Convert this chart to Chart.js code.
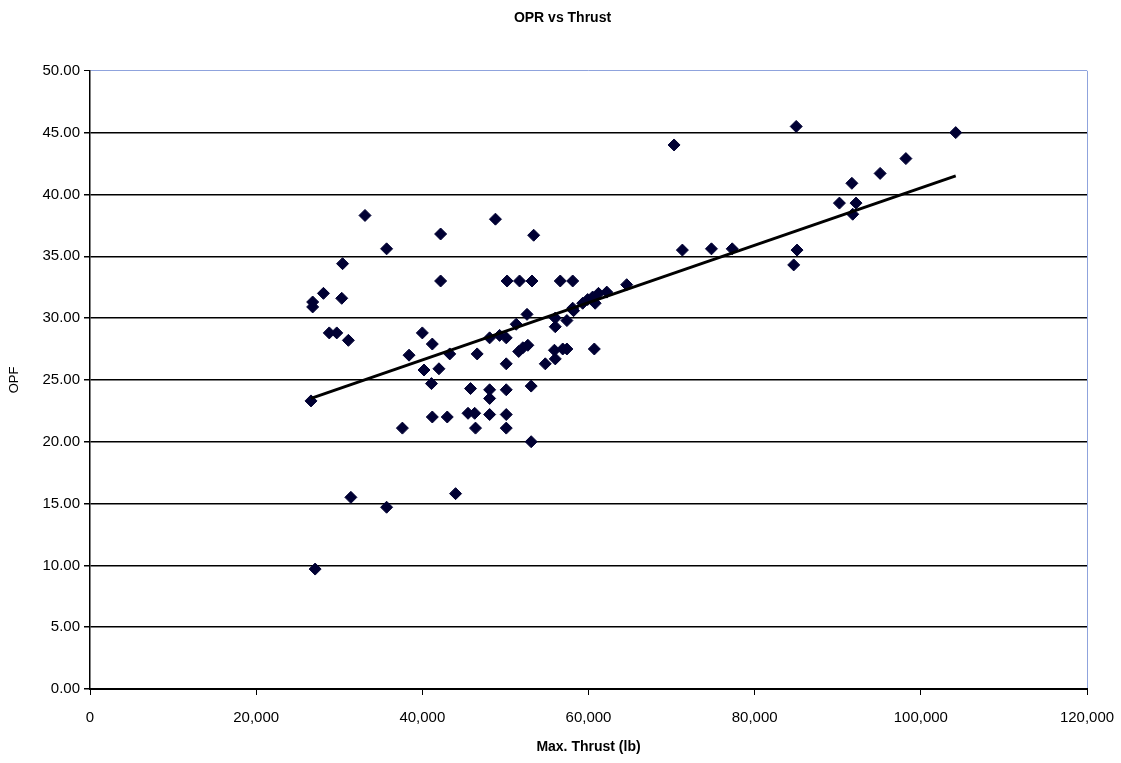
<!DOCTYPE html>
<html>
<head>
<meta charset="utf-8">
<title>OPR vs Thrust</title>
<script src="https://cdn.jsdelivr.net/npm/chart.js@4.4.1/dist/chart.umd.min.js"></script>
<style>
  body { margin: 0; background: #fff; }
  #wrap { width: 1121px; height: 763px; }
</style>
</head>
<body>
<div id="wrap"><canvas id="myChart" width="1121" height="763"></canvas></div>
<script>
// max thrust (lb) and OPR
let thrust = [26800, 26800, 26600, 27100, 28100, 28800, 29700, 30400, 30300, 31100,
              31400, 33100, 35700, 35700, 37600, 38400, 40000, 40200, 41200, 41100,
              41200, 42000, 42200, 42200, 43000, 43300, 44000, 45800, 45500, 46300,
              46400, 46600, 48100, 48100, 48100, 48100, 48800, 49300, 50100, 50200,
              50100, 50100, 50100, 50100, 51300, 51700, 51600, 52100, 52700, 52600,
              53100, 53100, 53200, 53400, 54800, 55900, 56000, 56000, 56000, 56600,
              56900, 57400, 57400, 58100, 58100, 58200, 59300, 59900, 60500, 60800,
              61200, 60700, 62200, 64600, 70300, 71300, 74800, 77300, 85000, 85100,
              84700, 90200, 91700, 92200, 91800, 95100, 98200, 104200];
let opr = [31.3, 30.9, 23.3, 9.7, 32.0, 28.8, 28.8, 34.4, 31.6, 28.2,
           15.5, 38.3, 35.6, 14.7, 21.1, 27.0, 28.8, 25.8, 27.9, 24.7,
           22.0, 25.9, 36.8, 33.0, 22.0, 27.1, 15.8, 24.3, 22.3, 22.3,
           21.1, 27.1, 28.4, 24.2, 23.5, 22.2, 38.0, 28.6, 28.4, 33.0,
           26.3, 24.2, 22.2, 21.1, 29.5, 33.0, 27.3, 27.6, 27.8, 30.3,
           20.0, 24.5, 33.0, 36.7, 26.3, 27.4, 26.7, 30.0, 29.3, 33.0,
           27.5, 27.5, 29.8, 33.0, 30.8, 30.6, 31.2, 31.5, 31.7, 31.2,
           32.0, 27.5, 32.1, 32.7, 44.0, 35.5, 35.6, 35.6, 45.5, 35.5,
           34.3, 39.3, 40.9, 39.3, 38.4, 41.7, 42.9, 45.0];
// linear trendline end points
let trendThrust = [26600, 104200];
let trendOpr = [23.5, 41.5];

let points = thrust.map((t, i) => ({x: t, y: opr[i]}));
let trend = trendThrust.map((t, i) => ({x: t, y: trendOpr[i]}));

let font = "'Liberation Sans', Arial, sans-serif";

let ctx = document.getElementById('myChart').getContext('2d');
let chart = new Chart(ctx, {
    type: 'scatter',
    data: {
        datasets: [{
            label: 'OPR',
            data: points,
            pointStyle: 'rectRot',
            pointRadius: 6,
            backgroundColor: '#000033',
            borderColor: '#000033',
            borderWidth: 1,
            order: 2
        }, {
            label: 'Linear',
            data: trend,
            showLine: true,
            pointRadius: 0,
            borderColor: '#000',
            borderWidth: 3,
            order: 1
        }]
    },
    options: {
        responsive: false,
        animation: false,
        layout: { padding: { left: 38, right: 34, top: 0, bottom: 0 } },
        plugins: {
            legend: { display: false },
            tooltip: { enabled: false },
            title: {
                display: true,
                text: 'OPR vs Thrust',
                color: '#000',
                font: { family: font, size: 14, weight: 'bold' },
                padding: { top: 10, bottom: 44 }
            }
        },
        scales: {
            x: {
                type: 'linear',
                min: 0,
                max: 120000,
                afterFit: s => { s.height = 74; s.paddingLeft = 0; s.paddingRight = 0; },
                ticks: {
                    stepSize: 20000,
                    color: '#000',
                    padding: 14,
                    maxRotation: 0,
                    font: { family: font, size: 15 },
                    callback: v => v.toLocaleString('en-US')
                },
                grid: {
                    drawOnChartArea: true,
                    color: c => c.tick && c.tick.value === 120000 ? '#8fa3dd' : 'rgba(0,0,0,0)',
                    lineWidth: 1,
                    tickColor: '#000',
                    tickLength: 6
                },
                border: { color: '#000', width: 2 },
                title: {
                    display: true,
                    text: 'Max. Thrust (lb)',
                    color: '#000',
                    font: { family: font, size: 14, weight: 'bold' },
                    padding: { top: 0, bottom: 7 }
                }
            },
            y: {
                min: 0,
                max: 50,
                afterFit: s => { s.width = 52; },
                ticks: {
                    stepSize: 5,
                    color: '#000',
                    padding: 4,
                    font: { family: font, size: 15 },
                    callback: v => v.toFixed(2)
                },
                grid: {
                    color: c => c.tick && c.tick.value === 50 ? '#8fa3dd' : '#000',
                    lineWidth: c => c.tick && c.tick.value === 50 ? 1 : 1.5,
                    tickColor: '#000',
                    tickLength: 6
                },
                border: { color: '#000', width: 1.5 },
                title: {
                    display: true,
                    text: 'OPF',
                    color: '#000',
                    font: { family: font, size: 13 },
                    padding: { top: -31, bottom: 0 }
                }
            }
        }
    }
});
</script>
</body>
</html>
